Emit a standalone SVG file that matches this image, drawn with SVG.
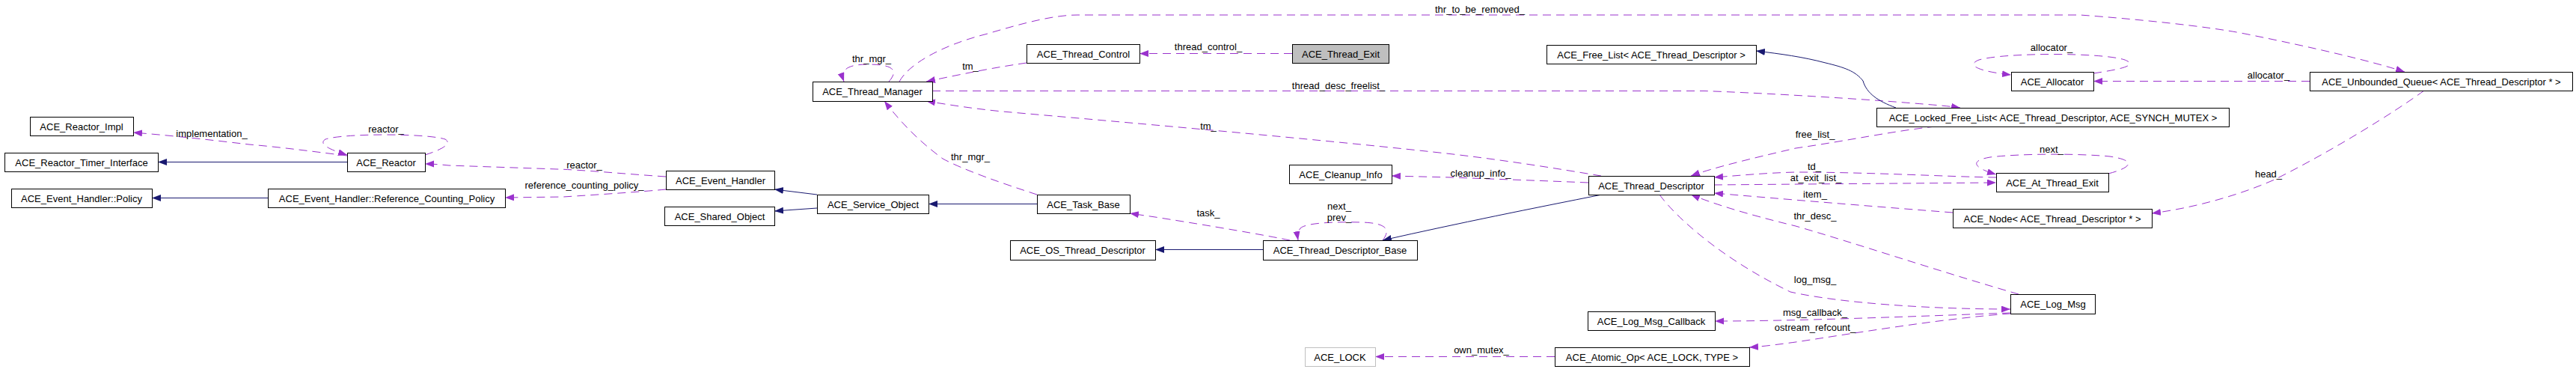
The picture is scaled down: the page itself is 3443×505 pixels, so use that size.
<svg xmlns="http://www.w3.org/2000/svg" width="3443" height="505" viewBox="0 0 3443 505">
<style>
text{font-family:"Liberation Sans",Arial,sans-serif;font-size:13px;fill:#000}
.n rect{fill:#fff;stroke:#000;stroke-width:1}
.n text{text-anchor:middle}
.e{fill:none;stroke:#9a32cd;stroke-width:1;stroke-dasharray:11,7;marker-end:url(#ap)}
.i{fill:none;stroke:#191970;stroke-width:1;marker-end:url(#an)}
.l{text-anchor:middle}
</style>
<defs>
<marker id="ap" markerUnits="userSpaceOnUse" markerWidth="13" markerHeight="10" refX="12" refY="4.5" orient="auto"><path d="M0,0 L12,4.5 L0,9 z" fill="#9a32cd"/></marker>
<marker id="an" markerUnits="userSpaceOnUse" markerWidth="13" markerHeight="10" refX="12" refY="4.5" orient="auto"><path d="M0,0 L12,4.5 L0,9 z" fill="#191970"/></marker>
</defs>
<rect width="3443" height="505" fill="#fff"/>
<g id="connectors">
<path class="e" d="M1727,71.5 L1523,71.5"/>
<path class="e" d="M1372,84 C1330,90 1290,98 1238,109"/>
<path class="e" d="M1188,109 C1205,90 1185,86 1160,86 C1135,86 1122,92 1128,109"/>
<path class="e" d="M1202,109 C1215,85 1260,60 1320,45 C1370,30 1410,20 1440,20 L2780,20 C2850,25 2950,35 3000,45 C3100,65 3170,82 3214,96"/>
<path class="e" d="M1246,121.5 L2278,121.5 C2350,124 2450,130 2520,135 C2570,139 2600,141 2620,144"/>
<path class="e" d="M2140,235 C2080,225 2000,212 1915,203 C1750,185 1500,163 1340,149 C1300,145 1268,140 1238,135"/>
<path class="e" d="M1386,260 C1340,245 1290,228 1260,212 C1230,190 1205,165 1182,135"/>
<path class="e" d="M890,236 C830,232 780,227 745,226 L600,221 C590,220 580,219 568,219"/>
<path class="e" d="M890,253 C860,256 800,260 753,263 L675,264"/>
<path class="e" d="M464,208 C430,204 380,197 333,193 C290,188 240,182 178,177"/>
<path class="e" d="M568,207 C590,200 605,192 595,186 C570,178 460,178 435,186 C425,192 440,200 464,207"/>
<path class="e" d="M1724,321 C1690,314 1620,302 1544,290 L1510,285"/>
<path class="e" d="M1848,321 C1858,308 1856,298 1820,297 C1780,296 1745,298 1738,305 C1734,310 1734,315 1735,321"/>
<path class="e" d="M2123,244 C2050,241 1990,239 1940,237 L1860,235"/>
<path class="e" d="M2587,169 C2530,175 2470,188 2400,198 C2340,212 2290,224 2260,235"/>
<path class="e" d="M2668,237 C2600,236 2500,230 2400,230 C2360,231 2330,234 2291,237"/>
<path class="e" d="M2291,247 C2400,246 2550,245 2668,244"/>
<path class="e" d="M2818,232 C2845,225 2860,215 2820,209 C2780,205 2700,205 2660,210 C2630,215 2640,225 2668,233"/>
<path class="e" d="M2610,284 C2520,277 2420,269 2291,258"/>
<path class="e" d="M3240,121 C3200,150 3120,200 3040,240 C2990,262 2930,278 2876,285"/>
<path class="e" d="M3087,108.5 L2798,108.5"/>
<path class="e" d="M2798,98 C2830,93 2860,88 2840,80 C2810,70 2680,70 2645,80 C2625,88 2650,96 2688,100"/>
<path class="e" d="M2698,393 C2600,365 2480,325 2400,302 C2330,285 2290,272 2260,260"/>
<path class="e" d="M2218,260 C2240,290 2300,345 2393,390 C2460,405 2580,413 2687,413"/>
<path class="e" d="M2687,418 C2550,423 2400,429 2292,429"/>
<path class="e" d="M2687,419 C2600,425 2480,445 2400,457 C2370,461 2355,463 2338,464"/>
<path class="e" d="M2078,476.5 L1838,476.5"/>
<path class="i" d="M464,216.5 L211,216.5"/>
<path class="i" d="M358,264.5 L203,264.5"/>
<path class="i" d="M1092,260 L1035,253"/>
<path class="i" d="M1092,278 L1035,282"/>
<path class="i" d="M1386,272.5 L1241,272.5"/>
<path class="i" d="M1688,333.5 L1544,333.5"/>
<path class="i" d="M2141,260 C2050,278 1950,298 1848,321"/>
<path class="i" d="M2534,144 C2510,135 2495,125 2490,108 C2480,95 2465,90 2440,84 C2410,76 2380,72 2347,68"/>
<text class="l" x="1615" y="67">thread_control_</text>
<text class="l" x="1297" y="93">tm_</text>
<text class="l" x="1165" y="83">thr_mgr_</text>
<text class="l" x="1978" y="17">thr_to_be_removed_</text>
<text class="l" x="1789" y="119">thread_desc_freelist_</text>
<text class="l" x="1615" y="173">tm_</text>
<text class="l" x="1297" y="214">thr_mgr_</text>
<text class="l" x="781" y="225">reactor_</text>
<text class="l" x="781" y="252">reference_counting_policy_</text>
<text class="l" x="283" y="183">implementation_</text>
<text class="l" x="516" y="177">reactor_</text>
<text class="l" x="1615" y="289">task_</text>
<text class="l" x="1790" y="280">next_</text>
<text class="l" x="1790" y="295">prev_</text>
<text class="l" x="1979" y="236">cleanup_info_</text>
<text class="l" x="2426" y="184">free_list_</text>
<text class="l" x="2425" y="227">td_</text>
<text class="l" x="2427" y="242">at_exit_list_</text>
<text class="l" x="2742" y="204">next_</text>
<text class="l" x="2426" y="264">item_</text>
<text class="l" x="3032" y="237">head_</text>
<text class="l" x="3032" y="105">allocator_</text>
<text class="l" x="2742" y="68">allocator_</text>
<text class="l" x="2426" y="293">thr_desc_</text>
<text class="l" x="2426" y="378">log_msg_</text>
<text class="l" x="2426" y="422">msg_callback_</text>
<text class="l" x="2426" y="442">ostream_refcount_</text>
<text class="l" x="1980" y="472">own_mutex_</text>
</g>
<g id="n_thread_exit" class="n"><rect x="1727.5" y="59.5" width="129" height="25" style="fill:#bfbfbf"/><text x="1792" y="76.5">ACE_Thread_Exit</text></g>
<g id="n_thread_control" class="n"><rect x="1372.5" y="59.5" width="151" height="25"/><text x="1448" y="76.5">ACE_Thread_Control</text></g>
<g id="n_thread_manager" class="n"><rect x="1086.5" y="109.5" width="160" height="26"/><text x="1166" y="127">ACE_Thread_Manager</text></g>
<g id="n_free_list" class="n"><rect x="2067.5" y="60.5" width="280" height="25"/><text x="2207" y="77.5">ACE_Free_List&lt; ACE_Thread_Descriptor &gt;</text></g>
<g id="n_allocator" class="n"><rect x="2688.5" y="96.5" width="110" height="25"/><text x="2743" y="113.5">ACE_Allocator</text></g>
<g id="n_unbounded_queue" class="n"><rect x="3087.5" y="96.5" width="351" height="25"/><text x="3263" y="113.5">ACE_Unbounded_Queue&lt; ACE_Thread_Descriptor * &gt;</text></g>
<g id="n_locked_free_list" class="n"><rect x="2508.5" y="144.5" width="471" height="25"/><text x="2744" y="161.5">ACE_Locked_Free_List&lt; ACE_Thread_Descriptor, ACE_SYNCH_MUTEX &gt;</text></g>
<g id="n_reactor_impl" class="n"><rect x="40.5" y="156.5" width="138" height="25"/><text x="109" y="173.5">ACE_Reactor_Impl</text></g>
<g id="n_reactor_timer_interface" class="n"><rect x="6.5" y="204.5" width="205" height="25"/><text x="109" y="221.5">ACE_Reactor_Timer_Interface</text></g>
<g id="n_reactor" class="n"><rect x="464.5" y="204.5" width="104" height="25"/><text x="516" y="221.5">ACE_Reactor</text></g>
<g id="n_policy" class="n"><rect x="15.5" y="252.5" width="188" height="25"/><text x="109" y="269.5">ACE_Event_Handler::Policy</text></g>
<g id="n_ref_counting_policy" class="n"><rect x="358.5" y="252.5" width="317" height="25"/><text x="517" y="269.5">ACE_Event_Handler::Reference_Counting_Policy</text></g>
<g id="n_event_handler" class="n"><rect x="890.5" y="228.5" width="145" height="25"/><text x="963" y="245.5">ACE_Event_Handler</text></g>
<g id="n_shared_object" class="n"><rect x="888.5" y="276.5" width="147" height="25"/><text x="962" y="293.5">ACE_Shared_Object</text></g>
<g id="n_service_object" class="n"><rect x="1092.5" y="260.5" width="149" height="25"/><text x="1167" y="277.5">ACE_Service_Object</text></g>
<g id="n_task_base" class="n"><rect x="1386.5" y="260.5" width="124" height="25"/><text x="1448" y="277.5">ACE_Task_Base</text></g>
<g id="n_cleanup_info" class="n"><rect x="1723.5" y="220.5" width="137" height="25"/><text x="1792" y="237.5">ACE_Cleanup_Info</text></g>
<g id="n_thread_descriptor" class="n"><rect x="2123.5" y="235.5" width="168" height="25"/><text x="2207" y="252.5">ACE_Thread_Descriptor</text></g>
<g id="n_at_thread_exit" class="n"><rect x="2668.5" y="231.5" width="150" height="25"/><text x="2743" y="248.5">ACE_At_Thread_Exit</text></g>
<g id="n_node" class="n"><rect x="2610.5" y="279.5" width="266" height="25"/><text x="2743" y="296.5">ACE_Node&lt; ACE_Thread_Descriptor * &gt;</text></g>
<g id="n_os_thread_descriptor" class="n"><rect x="1350.5" y="321.5" width="194" height="26"/><text x="1447" y="339">ACE_OS_Thread_Descriptor</text></g>
<g id="n_thread_descriptor_base" class="n"><rect x="1688.5" y="321.5" width="206" height="26"/><text x="1791" y="339">ACE_Thread_Descriptor_Base</text></g>
<g id="n_log_msg_callback" class="n"><rect x="2122.5" y="416.5" width="170" height="25"/><text x="2207" y="433.5">ACE_Log_Msg_Callback</text></g>
<g id="n_log_msg" class="n"><rect x="2687.5" y="393.5" width="113" height="26"/><text x="2744" y="411">ACE_Log_Msg</text></g>
<g id="n_ace_lock" class="n"><rect x="1744.5" y="464.5" width="94" height="25" style="stroke:#bfbfbf"/><text x="1791" y="481.5">ACE_LOCK</text></g>
<g id="n_atomic_op" class="n"><rect x="2078.5" y="464.5" width="260" height="25"/><text x="2208" y="481.5">ACE_Atomic_Op&lt; ACE_LOCK, TYPE &gt;</text></g>
</svg>
